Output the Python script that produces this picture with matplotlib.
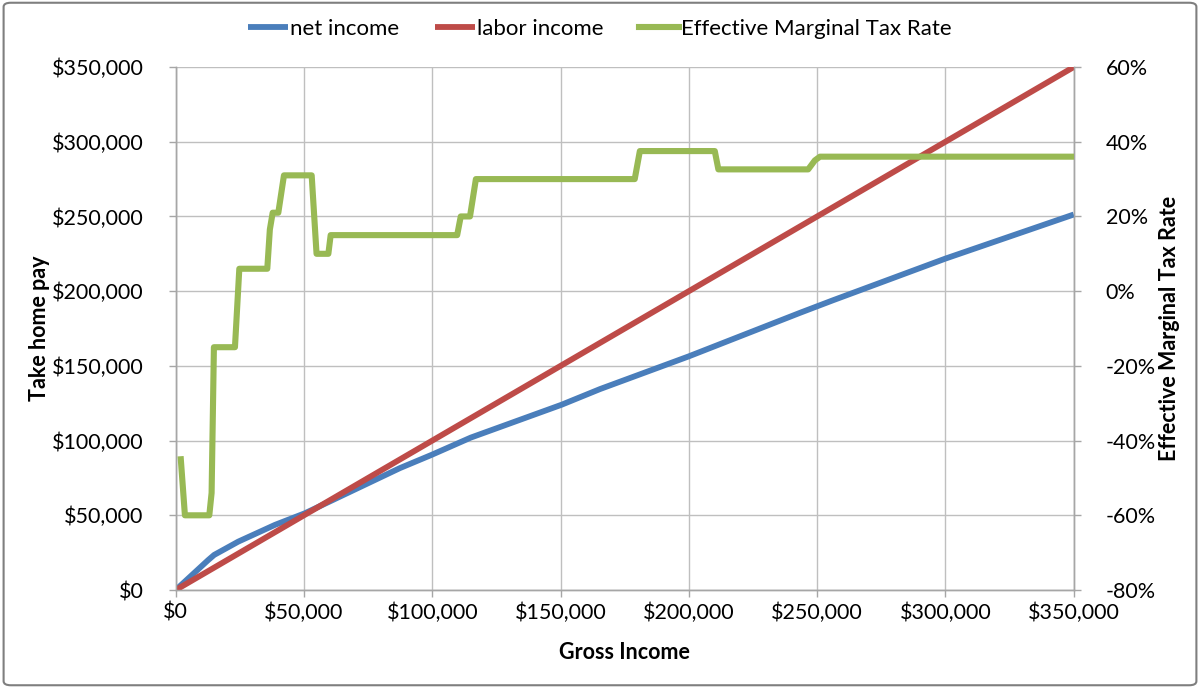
import matplotlib
matplotlib.use("Agg")
import matplotlib.pyplot as plt
from matplotlib.ticker import FuncFormatter, MultipleLocator
from matplotlib.patches import FancyBboxPatch

# Gross income points where net income was read
gross_income = [0, 12700, 15000, 24400, 38700, 50400, 87400, 99800, 115000,
                150400, 165400, 200000, 243300, 256000, 300000, 350000]
net_income = [0, 20100, 23500, 32400, 43600, 51400, 81600, 90500, 102000,
              124000, 134500, 156400, 185500, 193800, 221800, 251300]

# Labor income equals gross income
labor_gross = [0, 350000]
labor_income = [0, 350000]

# Effective marginal tax rate (%) step series
emtr_gross = [2000, 3600, 13100, 14000, 14900, 23100, 24800, 35700, 36700, 37800,
              40000, 42200, 53000, 54900, 59500, 60400, 109700, 111100, 114700,
              117000, 178900, 180900, 210100, 211500, 246500, 249100, 251100, 350000]
emtr_rate = [-45, -60, -60, -54, -15, -15, 6, 6, 16.5, 21,
             21, 31, 31, 10, 10, 15, 15, 20, 20,
             30, 30, 37.5, 37.5, 32.6, 32.6, 35, 36, 36]

BLUE = "#4A7EBB"
RED = "#BE4B48"
GREEN = "#98B954"
GRID = "#BFBFBF"

plt.rcParams['font.family'] = ['Lato', 'DejaVu Sans']

fig = plt.figure(figsize=(12, 6.88), dpi=100)
ax = fig.add_axes([0.1464, 0.1424, 0.7484, 0.7602])
ax2 = ax.twinx()

ax.plot(gross_income, net_income, color=BLUE, lw=4.2, label="net income",
        solid_capstyle='butt', zorder=3)
ax.plot(labor_gross, labor_income, color=RED, lw=4.2, label="labor income",
        solid_capstyle='butt', zorder=4)
ax2.plot(emtr_gross, emtr_rate, color=GREEN, lw=4.4,
         label="Effective Marginal Tax Rate", solid_joinstyle='round', zorder=5)

ax.set_xlim(0, 350000)
ax.set_ylim(0, 350000)
ax2.set_ylim(-80, 60)

ax.xaxis.set_major_locator(MultipleLocator(50000))
ax.yaxis.set_major_locator(MultipleLocator(50000))
ax2.yaxis.set_major_locator(MultipleLocator(20))

ax.xaxis.set_major_formatter(FuncFormatter(lambda v, p: f"${v:,.0f}"))
ax.yaxis.set_major_formatter(FuncFormatter(lambda v, p: f"${v:,.0f}"))
ax2.yaxis.set_major_formatter(FuncFormatter(lambda v, p: f"{v:.0f}%"))

ax.grid(True, color=GRID, lw=1.0)
ax.set_axisbelow(True)

for a in (ax, ax2):
    a.spines["top"].set_visible(False)
    for s in ("left", "right", "bottom"):
        a.spines[s].set_color("#A6A6A6")
        a.spines[s].set_linewidth(1.0)
    a.tick_params(colors="#A6A6A6", labelcolor="black", length=5, width=1,
                  labelsize=15.5)

ax.tick_params(axis='x', pad=4)
ax.tick_params(axis='y', pad=18)
ax2.tick_params(axis='y', pad=18)

ax.set_xlabel("Gross Income", fontsize=15.5, fontweight='bold', labelpad=14)
ax.set_ylabel("Take home pay", fontsize=15.5, fontweight='bold', labelpad=1)
ax2.set_ylabel("Effective Marginal Tax Rate", fontsize=15.5, fontweight='bold', labelpad=2)

h1, l1 = ax.get_legend_handles_labels()
h2, l2 = ax2.get_legend_handles_labels()
fig.legend(h1 + h2, l1 + l2, loc="center", bbox_to_anchor=(0.5, 0.958), ncol=3,
           frameon=False, fontsize=16, handlelength=1.8, handletextpad=0.1,
           columnspacing=1.6)

# outer frame
frame = FancyBboxPatch((0.003, 0.004), 0.994, 0.992, boxstyle="round,pad=0,rounding_size=0.006",
                       transform=fig.transFigure, fill=False, edgecolor="#7F7F7F", lw=1.5)
fig.patches.append(frame)

fig.savefig("out.png", dpi=100)
